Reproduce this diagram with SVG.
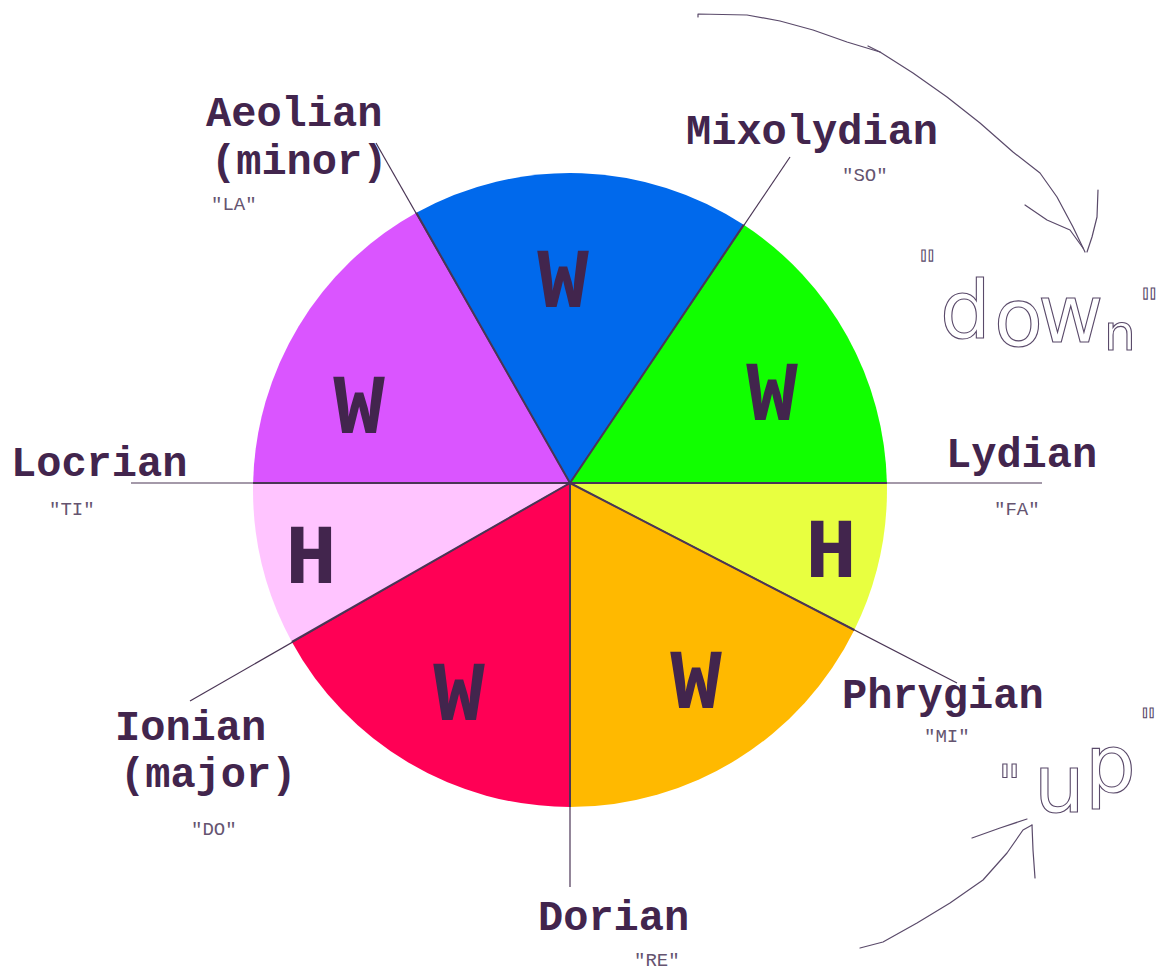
<svg xmlns="http://www.w3.org/2000/svg" width="1157" height="971" viewBox="0 0 1157 971">
<style>
.lab{font-family:"Courier New","Liberation Mono",monospace;font-weight:bold;font-size:42px;fill:#42254d}
.syl{font-family:"Courier New","Liberation Mono",monospace;font-size:19px;fill:#655470}
.step{font-family:"Courier New","Liberation Mono",monospace;font-weight:bold;font-size:86px;fill:#42254d;text-anchor:middle}
.spoke{stroke:#4a3555;stroke-width:1.2;fill:none}
.edge{stroke:#4a3555;stroke-width:2;fill:none}
.hand{fill:none;stroke:#5a4a6a;stroke-width:1.2;stroke-linejoin:round;stroke-linecap:round}
.handtxt{font-family:"DejaVu Sans",sans-serif;fill:none;stroke:#5a4a6a;stroke-width:1.1}
</style>
<rect x="0" y="0" width="1157" height="971" fill="#ffffff"/>

<g id="sector-yellow-H">
<path d="M570 483 L886.9 483 A317 317 0 0 1 854.3 630 Z" fill="#e8ff40"/>
<text class="step" x="831" y="577">H</text>
</g>
<g id="sector-orange-W">
<path d="M570 483 L854.3 630 A317 317 0 0 1 570 807 Z" fill="#ffb900"/>
<text class="step" x="696" y="708">W</text>
</g>
<g id="sector-red-W">
<path d="M570 483 L570 807 A317 317 0 0 1 291.9 641.9 Z" fill="#ff0055"/>
<text class="step" x="459" y="720">W</text>
</g>
<g id="sector-pink-H">
<path d="M570 483 L291.9 641.9 A317 317 0 0 1 253.1 483 Z" fill="#ffc4ff"/>
<text class="step" x="311" y="583">H</text>
</g>
<g id="sector-purple-W">
<path d="M570 483 L253.1 483 A317 317 0 0 1 416.3 212.8 Z" fill="#da55ff"/>
<text class="step" x="359" y="433">W</text>
</g>
<g id="sector-blue-W">
<path d="M570 483 L416.3 212.8 A317 317 0 0 1 743.7 224.8 Z" fill="#0069ec"/>
<text class="step" x="563" y="307">W</text>
</g>
<g id="sector-green-W">
<path d="M570 483 L743.7 224.8 A317 317 0 0 1 886.9 483 Z" fill="#11ff00"/>
<text class="step" x="772" y="420">W</text>
</g>

<g id="connectors">
<line class="spoke" x1="570" y1="483" x2="1042" y2="483" stroke-width="2"/>
<line class="spoke" x1="570" y1="483" x2="957" y2="683"/>
<line class="spoke" x1="570" y1="483" x2="570" y2="887"/>
<line class="spoke" x1="570" y1="483" x2="190" y2="701"/>
<line class="spoke" x1="570" y1="483" x2="131" y2="483"/>
<line class="spoke" x1="570" y1="483" x2="376" y2="143"/>
<line class="spoke" x1="570" y1="483" x2="790" y2="157"/>
<line class="edge" x1="570" y1="483" x2="886.9" y2="483"/>
<line class="edge" x1="570" y1="483" x2="854.3" y2="630"/>
<line class="edge" x1="570" y1="483" x2="570" y2="807"/>
<line class="edge" x1="570" y1="483" x2="291.9" y2="641.9"/>
<line class="edge" x1="570" y1="483" x2="253.1" y2="483"/>
<line class="edge" x1="570" y1="483" x2="416.3" y2="212.8"/>
<line class="edge" x1="570" y1="483" x2="743.7" y2="224.8"/>
</g>

<g id="label-aeolian">
<text class="lab" x="206" y="126">Aeolian</text>
<text class="lab" x="211" y="174" font-size="41">(minor)</text>
<text class="syl" x="211" y="210">"LA"</text>
</g>
<g id="label-mixolydian">
<text class="lab" x="686" y="144">Mixolydian</text>
<text class="syl" x="842" y="181">"SO"</text>
</g>
<g id="label-locrian">
<text class="lab" x="11" y="476">Locrian</text>
<text class="syl" x="49" y="515">"TI"</text>
</g>
<g id="label-lydian">
<text class="lab" x="946" y="467">Lydian</text>
<text class="syl" x="994" y="515">"FA"</text>
</g>
<g id="label-phrygian">
<text class="lab" x="842" y="708">Phrygian</text>
<text class="syl" x="924" y="742">"MI"</text>
</g>
<g id="label-ionian">
<text class="lab" x="115" y="740">Ionian</text>
<text class="lab" x="120" y="787" font-size="41">(major)</text>
<text class="syl" x="191" y="835">"DO"</text>
</g>
<g id="label-dorian">
<text class="lab" x="538" y="930">Dorian</text>
<text class="syl" x="634" y="966">"RE"</text>
</g>

<g id="note-down">
<polyline class="hand" points="698,17 698,14 747,15 780,21 813,30 847,42 880,52 913,73 947,97 980,123 1013,152 1040,173 1057,197 1073,227 1085,252"/>
<polyline class="hand" points="868,46 880,52"/>
<polyline class="hand" points="1025,205 1047,220 1070,230 1083,248"/>
<polyline class="hand" points="1098,190 1097,217 1092,237 1087,252"/>
<text class="handtxt" font-size="40" x="918" y="280">"</text>
<text class="handtxt" font-size="80"><tspan x="940" y="338">d</tspan><tspan x="994" y="346">o</tspan><tspan x="1038" y="342">w</tspan><tspan x="1104" y="350" font-size="50">n</tspan></text>
<text class="handtxt" font-size="40" x="1140" y="318">"</text>
</g>
<g id="note-up">
<polyline class="hand" points="860,948 883,942 917,923 950,903 983,880 1007,853 1023,830 1032,825"/>
<polyline class="hand" points="972,838 1000,828 1027,819"/>
<polyline class="hand" points="1032,825 1033,850 1035,878"/>
<text class="handtxt" font-size="50" x="998" y="800">"</text>
<text class="handtxt" font-size="80"><tspan x="1034" y="812">u</tspan><tspan x="1085" y="792">p</tspan></text>
<text class="handtxt" font-size="36" x="1140" y="734">"</text>
</g>
</svg>
